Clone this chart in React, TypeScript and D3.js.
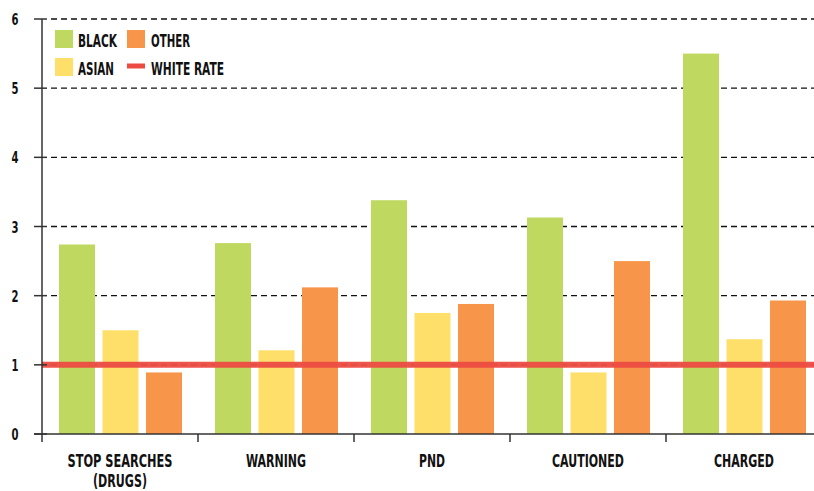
import React from "react";
import * as d3 from "d3";

const categories = ["STOP SEARCHES|(DRUGS)", "WARNING", "PND", "CAUTIONED", "CHARGED"];
const seriesKeys = ["black", "asian", "other"];
const seriesLabels = ["BLACK", "ASIAN", "OTHER"];
const black = [2.74, 2.76, 3.38, 3.13, 5.5];
const asian = [1.5, 1.21, 1.75, 0.89, 1.37];
const other = [0.89, 2.12, 1.88, 2.5, 1.93];
const whiteRate = 1;
const whiteLabel = "WHITE RATE";
const yTicks = [0, 1, 2, 3, 4, 5, 6];

const colors: Record<string, string> = {
  black: "#bfd960",
  asian: "#fddf6a",
  other: "#f7964a",
};
const red = "#ec4b42";

// rendered text widths (styling, to mimic the condensed typeface)
const textWidths: Record<string, number> = {
  "STOP SEARCHES": 105,
  "(DRUGS)": 54,
  WARNING: 60,
  PND: 26,
  CAUTIONED: 72,
  CHARGED: 60,
  BLACK: 39,
  ASIAN: 36,
  OTHER: 39,
  "WHITE RATE": 73,
};

const W = 814;
const H = 491;
const FONT = "'DejaVu Sans Condensed', 'DejaVu Sans', sans-serif";

function T(props: any) {
  const { children, ...rest } = props;
  const w = textWidths[children as string];
  return (
    <text {...rest} textLength={w} lengthAdjust="spacingAndGlyphs">
      {children}
    </text>
  );
}

export default function App() {
  const values: Record<string, number[]> = { black, asian, other };
  const x0 = d3.scaleBand<string>().domain(categories).range([42, 822]).padding(0);
  const x1 = d3.scaleBand<string>().domain(seriesKeys).range([17, 140]).paddingInner(0.172).paddingOuter(0);
  const y = d3.scaleLinear().domain([0, 6]).range([434, 19]);
  const left = 42;
  const right = W;

  return (
    <svg width={W} height={H} style={{ display: "block", position: "absolute", left: 0, top: 0 }} fontFamily={FONT} fontStretch="condensed">
      <rect width={W} height={H} fill="#fff" />
      {yTicks.filter((t) => t > 0).map((t) => (
        <line key={"g" + t} x1={51} x2={right} y1={y(t)} y2={y(t)} stroke="#111" strokeWidth={1.3} strokeDasharray="6 4" />
      ))}
      {categories.map((c, i) => (
        <g key={c} transform={`translate(${x0(c)},0)`}>
          {seriesKeys.map((k) => (
            <rect key={k} x={x1(k)} width={x1.bandwidth()} y={y(values[k][i])} height={y(0) - y(values[k][i])} fill={colors[k]} />
          ))}
        </g>
      ))}
      <line x1={left} x2={right} y1={y(whiteRate)} y2={y(whiteRate)} stroke={red} strokeOpacity={0.95} strokeWidth={6} />
      <line x1={left} x2={left} y1={y(6)} y2={y(0)} stroke="#333" strokeWidth={1.5} />
      {yTicks.map((t) => (
        <g key={"t" + t}>
          <line x1={34} x2={47} y1={y(t)} y2={y(t)} stroke="#333" strokeWidth={1.5} />
          <text x={11.5} y={y(t) + 6} fontSize={16.5} fontWeight="bold" fill="#111" textLength={7} lengthAdjust="spacingAndGlyphs">
            {t}
          </text>
        </g>
      ))}
      <line x1={34} x2={right} y1={y(0)} y2={y(0)} stroke="#333" strokeWidth={1.5} />
      {categories.map((c) => (
        <line key={"xt" + c} x1={x0(c)!} x2={x0(c)!} y1={y(0)} y2={y(0) + 8} stroke="#333" strokeWidth={1.5} />
      ))}
      {categories.map((c) => {
        const lines = c.split("|");
        const cx = x0(c)! + x0.bandwidth() / 2;
        return (
          <g key={"xl" + c}>
            {lines.map((l, j) => (
              <T key={j} x={cx - textWidths[l] / 2} y={467 + j * 20} fontSize={18} fontWeight="bold" fill="#111">
                {l}
              </T>
            ))}
          </g>
        );
      })}
      <g>
        <rect x={55} y={30} width={18} height={18} fill={colors.black} />
        <T x={78} y={46.5} fontSize={17} fontWeight="bold" fill="#111">{seriesLabels[0]}</T>
        <rect x={55} y={58} width={18} height={18} fill={colors.asian} />
        <T x={78} y={74.5} fontSize={17} fontWeight="bold" fill="#111">{seriesLabels[1]}</T>
        <rect x={127} y={30} width={18} height={18} fill={colors.other} />
        <T x={151} y={46.5} fontSize={17} fontWeight="bold" fill="#111">{seriesLabels[2]}</T>
        <line x1={127} x2={145} y1={66} y2={66} stroke={red} strokeWidth={5} />
        <T x={151} y={74.5} fontSize={17} fontWeight="bold" fill="#111">{whiteLabel}</T>
      </g>
    </svg>
  );
}
